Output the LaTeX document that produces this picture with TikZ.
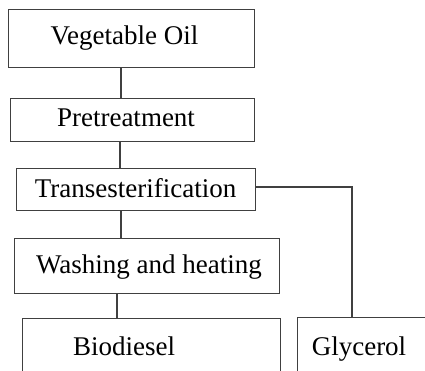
\documentclass[tikz,border=0pt]{standalone}
\usepackage{fontspec}
\setmainfont{Liberation Serif}
\begin{document}
\begin{tikzpicture}[x=1pt,y=-1pt,
  box/.style={draw=linegray, line width=1.3pt, rectangle, inner sep=0pt, anchor=north west},
  lbl/.style={anchor=base, inner sep=0pt, font=\fontsize{27}{30}\selectfont},
  conn/.style={draw=linegray, line width=1.3pt}]
\definecolor{linegray}{HTML}{404040}
\useasboundingbox (0,0) rectangle (425,371);
% boxes
\node[box, minimum width=246, minimum height=58] (veg) at (8,9) {};
\node[box, minimum width=244, minimum height=43] (pre) at (10,98) {};
\node[box, minimum width=239, minimum height=42] (trans) at (16,168) {};
\node[box, minimum width=265, minimum height=55] (wash) at (14,238) {};
\node[box, minimum width=258, minimum height=90] (bio) at (22,318) {};
\node[box, minimum width=160, minimum height=90] (gly) at (297,317) {};
% texts
\node[lbl] (tveg) at (124.5,45) {Vegetable Oil};
\node[lbl] (tpre) at (126,127) {Pretreatment};
\node[lbl] (ttrans) at (135.5,198) {Transesterification};
\node[lbl] (twash) at (149,273) {Washing and heating};
\node[lbl] (tbio) at (124,355) {Biodiesel};
\node[lbl] (tgly) at (359,355) {Glycerol};
% connector guides
\coordinate (c1) at (121,0);
\coordinate (c2) at (120,0);
\coordinate (c3) at (121,0);
\coordinate (c4) at (117,0);
\coordinate (c5) at (352,187);
% connectors
\draw[conn] (veg.south -| c1) -- (pre.north -| c1);
\draw[conn] (pre.south -| c2) -- (trans.north -| c2);
\draw[conn] (trans.south -| c3) -- (wash.north -| c3);
\draw[conn] (wash.south -| c4) -- (bio.north -| c4);
\draw[conn] (trans.east |- c5) -- (c5) -- (gly.north -| c5);
\end{tikzpicture}
\end{document}
